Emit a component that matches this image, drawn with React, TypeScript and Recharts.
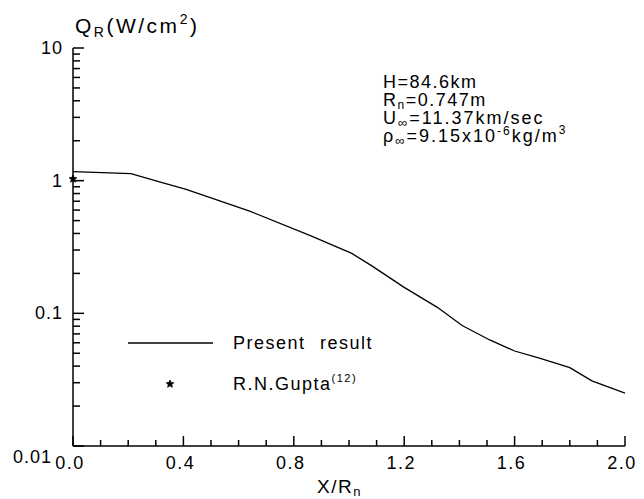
import { Line, LineChart, ReferenceLine, XAxis, YAxis } from "recharts";

// X/Rn positions and Q_R (W/cm^2)
const presentX = [0, 0.21, 0.32, 0.41, 0.64, 0.86, 1.01, 1.08, 1.2, 1.32, 1.41, 1.51, 1.6, 1.69, 1.8, 1.88, 2.0];
const presentQ = [1.17, 1.13, 0.97, 0.86, 0.59, 0.385, 0.283, 0.23, 0.157, 0.111, 0.081, 0.063, 0.052, 0.046, 0.039, 0.031, 0.025];
const guptaX = [0];
const guptaQ = [1.03];

const xTicks = [0, 0.1, 0.2, 0.3, 0.4, 0.5, 0.6, 0.7, 0.8, 0.9, 1.0, 1.1, 1.2, 1.3, 1.4, 1.5, 1.6, 1.7, 1.8, 1.9, 2.0];
const xMajor = [0, 0.4, 0.8, 1.2, 1.6, 2.0];
const yTicks = [
  0.01, 0.02, 0.03, 0.04, 0.05, 0.06, 0.07, 0.08, 0.09,
  0.1, 0.2, 0.3, 0.4, 0.5, 0.6, 0.7, 0.8, 0.9,
  1, 2, 3, 4, 5, 6, 7, 8, 9, 10,
];
const yMajor = [0.01, 0.1, 1, 10];
const yLabels = ["0.01", "0.1", "1", "10"];

const present = presentX.map((x, i) => ({ x, q: presentQ[i] }));
const gupta = guptaX.map((x, i) => ({ x, q: guptaQ[i] }));

const INK = "#000";
const FONT = "'Liberation Sans', Arial, sans-serif";

const W = 636;
const H = 491;
const M = { top: 40, right: 19, bottom: 23, left: 15 };
const Y_AXIS_W = 50;
const X_AXIS_H = 30;
const PLOT_W = W - M.left - M.right - Y_AXIS_W;
const PLOT_H = H - M.top - M.bottom - X_AXIS_H;
const X_MIN = 0;
const X_MAX = 2;
const Y_MIN = 0.01;
const Y_MAX = 10;
// px per unit, to turn tick lengths into data offsets
const PX_PER_X = PLOT_W / (X_MAX - X_MIN);
const PX_PER_DECADE = PLOT_H / Math.log10(Y_MAX / Y_MIN);

const isXMajor = (v: number) => xMajor.some((m) => Math.abs(m - v) < 1e-6);
const yMajorIndex = (v: number) => yMajor.findIndex((m) => Math.abs(m - v) / m < 1e-6);

function XLabel(props: any) {
  const { x, y, payload } = props;
  const v = Number(payload.value);
  if (!isXMajor(v)) return <g />;
  return (
    <text x={x - 3} y={y + 23} textAnchor="middle" fontSize={18} fontFamily={FONT} letterSpacing={1.5} fill={INK}>
      {v.toFixed(1)}
    </text>
  );
}

function YLabel(props: any) {
  const { x, y, payload } = props;
  const idx = yMajorIndex(Number(payload.value));
  if (idx < 0) return <g />;
  const bottom = idx === 0;
  return (
    <text
      x={bottom ? x - 21 : x - 10}
      y={bottom ? y + 17 : y + 6}
      textAnchor="end"
      fontSize={18}
      fontFamily={FONT}
      letterSpacing={1}
      fill={INK}
    >
      {yLabels[idx]}
    </text>
  );
}

function Star({ cx, cy, r = 4 }: { cx: number; cy: number; r?: number }) {
  const pts: string[] = [];
  for (let i = 0; i < 10; i++) {
    const a = -Math.PI / 2 + (i * Math.PI) / 5;
    const rr = i % 2 === 0 ? r : r * 0.45;
    pts.push(`${cx + rr * Math.cos(a)},${cy + rr * Math.sin(a)}`);
  }
  return <polygon points={pts.join(" ")} fill={INK} stroke={INK} strokeWidth={0.8} />;
}

function StarDot(props: any) {
  const { cx, cy } = props;
  if (cx == null || cy == null) return <g />;
  return <Star cx={cx} cy={cy} />;
}

const textStyle = { fontFamily: FONT, fill: INK, letterSpacing: 1.5 } as const;

export default function App() {
  // text layer sits underneath the (transparent) chart; coordinates are page - 8
  return (
    <div style={{ position: "relative", width: W, height: H }}>
      <svg width={W} height={H} style={{ position: "absolute", left: 0, top: 0, pointerEvents: "none" }}>
        <text x={67} y={25} fontSize={21} style={{ ...textStyle, letterSpacing: 2.5 }}>
          <tspan>Q</tspan>
          <tspan fontSize={14} dy={4}>R</tspan>
          <tspan dy={-4}>(W/cm</tspan>
          <tspan fontSize={14} dy={-9}>2</tspan>
          <tspan dy={9}>)</tspan>
        </text>

        <text x={375} y={80} fontSize={18} style={textStyle}>H=84.6km</text>
        <text x={375} y={98} fontSize={18} style={textStyle}>
          <tspan>R</tspan>
          <tspan fontSize={12} dy={3}>n</tspan>
          <tspan dy={-3}>=0.747m</tspan>
        </text>
        <text x={375} y={116} fontSize={18} style={{ ...textStyle, letterSpacing: 2 }}>
          <tspan>U</tspan>
          <tspan fontSize={13} dy={3}>∞</tspan>
          <tspan dy={-3}>=11.37km/sec</tspan>
        </text>
        <text x={375} y={134} fontSize={18} style={{ ...textStyle, letterSpacing: 2 }}>
          <tspan>ρ</tspan>
          <tspan fontSize={13} dy={3}>∞</tspan>
          <tspan dy={-3}>=9.15x10</tspan>
          <tspan fontSize={12} dy={-7}>-6</tspan>
          <tspan dy={7}>kg/m</tspan>
          <tspan fontSize={12} dy={-8}>3</tspan>
        </text>

        <line x1={120} x2={205} y1={335} y2={335} stroke={INK} strokeWidth={1.3} />
        <text x={225} y={341} fontSize={18} style={{ ...textStyle, wordSpacing: 8 }}>Present result</text>
        <Star cx={162} cy={376} />
        <text x={225} y={382} fontSize={18} style={textStyle}>
          <tspan>R.N.Gupta</tspan>
          <tspan fontSize={11} dy={-8}>(12)</tspan>
        </text>

        <text x={309} y={485} fontSize={19} style={textStyle}>
          <tspan>X/R</tspan>
          <tspan fontSize={13} dy={3}>n</tspan>
        </text>
      </svg>
      <LineChart width={W} height={H} margin={M}>
        <XAxis
          dataKey="x"
          type="number"
          domain={[X_MIN, X_MAX]}
          ticks={xTicks}
          interval={0}
          height={X_AXIS_H}
          tickSize={0}
          tickMargin={0}
          tickLine={false}
          tick={XLabel}
          stroke={INK}
          strokeWidth={1.5}
        />
        <YAxis
          dataKey="q"
          scale="log"
          domain={[Y_MIN, Y_MAX]}
          ticks={yTicks}
          interval={0}
          allowDataOverflow
          width={Y_AXIS_W}
          tickSize={0}
          tickMargin={0}
          tickLine={false}
          tick={YLabel}
          stroke={INK}
          strokeWidth={1.5}
        />
        {/* inward tick marks along the bottom axis */}
        {xTicks.map((v) => (
          <ReferenceLine
            key={`xt-${v}`}
            segment={[
              { x: v, y: Y_MIN },
              { x: v, y: Y_MIN * 10 ** ((isXMajor(v) ? 10 : 6) / PX_PER_DECADE) },
            ]}
            stroke={INK}
            strokeWidth={1.5}
            ifOverflow="visible"
          />
        ))}
        {/* inward tick marks along the left axis */}
        {yTicks.map((v) => (
          <ReferenceLine
            key={`yt-${v}`}
            segment={[
              { x: X_MIN, y: v },
              { x: X_MIN + (yMajorIndex(v) >= 0 ? 11 : 7) / PX_PER_X, y: v },
            ]}
            stroke={INK}
            strokeWidth={1.5}
            ifOverflow="visible"
          />
        ))}
        <Line
          data={present}
          dataKey="q"
          type="linear"
          stroke={INK}
          strokeWidth={1.3}
          dot={false}
          isAnimationActive={false}
        />
        <Line
          data={gupta}
          dataKey="q"
          stroke="none"
          dot={StarDot}
          isAnimationActive={false}
        />
      </LineChart>
    </div>
  );
}
